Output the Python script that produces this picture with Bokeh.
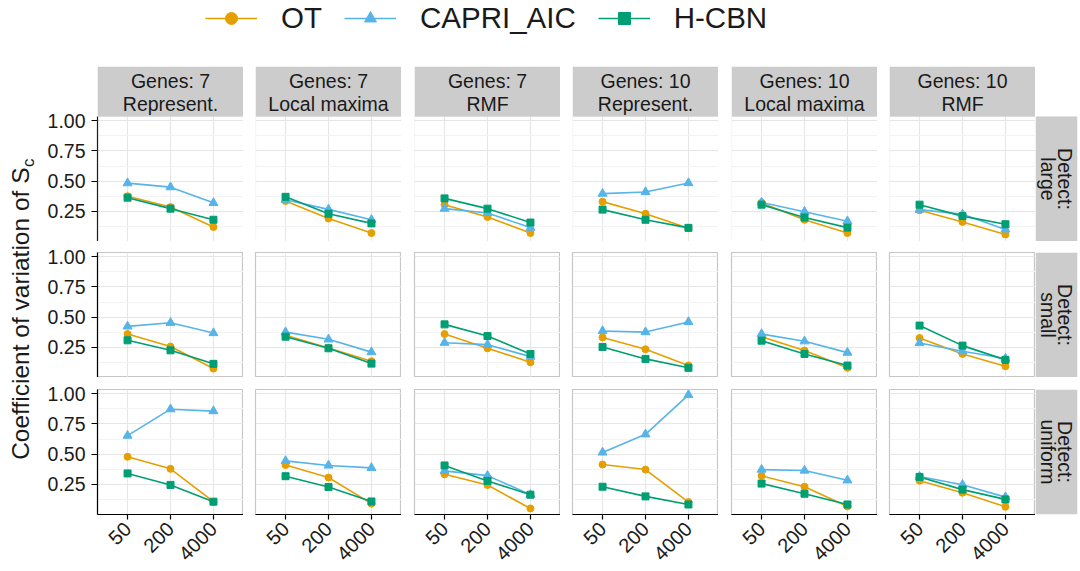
from math import pi
from bokeh.plotting import figure
from bokeh.layouts import column, row
from bokeh.models import (FactorRange, Range1d, FixedTicker, PrintfTickFormatter,
                          Legend, LegendItem, BoxAnnotation, Label)
from bokeh.core.properties import value
from bokeh.embed import file_html
from bokeh.resources import INLINE

FONT = "Liberation Sans"

# ---------------- data ----------------
sample_sizes = ["50", "200", "4000"]
genes_labels = ["Genes: 7", "Genes: 7", "Genes: 7", "Genes: 10", "Genes: 10", "Genes: 10"]
model_labels = ["Represent.", "Local maxima", "RMF", "Represent.", "Local maxima", "RMF"]
detect_labels = ["large", "small", "uniform"]
methods = ["OT", "CAPRI_AIC", "H-CBN"]

# values per panel column (6 columns), each list = [50, 200, 4000]
ot_large = [[0.375, 0.285, 0.12], [0.335, 0.19, 0.07], [0.305, 0.203, 0.07],
            [0.33, 0.23, 0.11], [0.32, 0.18, 0.07], [0.258, 0.162, 0.058]]
capri_large = [[0.483, 0.45, 0.32], [0.346, 0.266, 0.18], [0.272, 0.236, 0.115],
               [0.396, 0.41, 0.484], [0.324, 0.247, 0.168], [0.264, 0.225, 0.10]]
hcbn_large = [[0.363, 0.272, 0.18], [0.37, 0.23, 0.15], [0.357, 0.272, 0.157],
              [0.264, 0.18, 0.113], [0.305, 0.198, 0.115], [0.305, 0.21, 0.143]]

ot_small = [[0.36, 0.256, 0.074], [0.35, 0.245, 0.135], [0.36, 0.242, 0.126],
            [0.332, 0.234, 0.10], [0.338, 0.223, 0.08], [0.327, 0.195, 0.093]]
capri_small = [[0.423, 0.453, 0.368], [0.376, 0.316, 0.21], [0.288, 0.272, 0.173],
               [0.385, 0.376, 0.46], [0.36, 0.30, 0.206], [0.286, 0.217, 0.157]]
hcbn_small = [[0.308, 0.225, 0.113], [0.338, 0.242, 0.115], [0.44, 0.343, 0.195],
              [0.253, 0.154, 0.08], [0.305, 0.195, 0.099], [0.43, 0.264, 0.146]]

ot_uniform = [[0.478, 0.378, 0.106], [0.41, 0.306, 0.09], [0.333, 0.244, 0.05],
              [0.414, 0.372, 0.103], [0.32, 0.23, 0.067], [0.28, 0.18, 0.064]]
capri_uniform = [[0.653, 0.872, 0.856], [0.444, 0.406, 0.386], [0.361, 0.322, 0.164],
                 [0.514, 0.664, 0.99], [0.372, 0.364, 0.283], [0.314, 0.247, 0.144]]
hcbn_uniform = [[0.34, 0.245, 0.106], [0.317, 0.228, 0.108], [0.406, 0.278, 0.164],
                [0.23, 0.15, 0.083], [0.256, 0.172, 0.083], [0.311, 0.206, 0.125]]

y_ticks = [0.25, 0.5, 0.75, 1.0]
y_minor = [0.125, 0.375, 0.625, 0.875]

# ---------------- styles ----------------
colors = {"OT": "#E69F00", "CAPRI_AIC": "#56B4E9", "H-CBN": "#009E73"}
markers = {"OT": "circle", "CAPRI_AIC": "triangle", "H-CBN": "square"}
msizes = {"OT": 7, "CAPRI_AIC": 9, "H-CBN": 7}

rows_data = [
    {"OT": ot_large, "CAPRI_AIC": capri_large, "H-CBN": hcbn_large},
    {"OT": ot_small, "CAPRI_AIC": capri_small, "H-CBN": hcbn_small},
    {"OT": ot_uniform, "CAPRI_AIC": capri_uniform, "H-CBN": hcbn_uniform},
]

FW, FH = 146, 125
STRIP_H = 50
RSTRIP_W = 42
Y_TOP = 1.035
PX_PER_UNIT = FH / Y_TOP
STRIP_TOP = Y_TOP + STRIP_H / PX_PER_UNIT
BORDER = "#C6C6C6"
STRIP_FILL = "#CCCCCC"
TXT = "#1A1A1A"


def left_border(c):
    if c == 0:
        return 57
    return 12 if c % 2 == 1 else 13


top_borders = [0, 11, 12]


def base_fig(**kw):
    return figure(toolbar_location=None, output_backend="svg", title=None, **kw)


def panel(r, c):
    with_strip = (r == 0)
    p = base_fig(
        x_range=FactorRange(factors=sample_sizes, range_padding=0.2,
                            range_padding_units="absolute"),
        y_range=Range1d(0.0, STRIP_TOP if with_strip else Y_TOP),
        frame_width=FW, frame_height=FH + (STRIP_H if with_strip else 0),
        min_border_left=left_border(c), min_border_right=0,
        min_border_top=top_borders[r], min_border_bottom=57 if r == 2 else 0,
        x_axis_location="below" if r == 2 else None,
        y_axis_location="left" if c == 0 else None,
    )
    p.background_fill_color = "white"
    p.border_fill_color = "white"
    p.ygrid.ticker = FixedTicker(ticks=y_ticks, minor_ticks=y_minor)
    p.ygrid.grid_line_color = "#E6E6E6"
    p.ygrid.grid_line_width = 1.1
    p.ygrid.minor_grid_line_color = "#F3F3F3"
    p.ygrid.minor_grid_line_width = 1.0
    p.xgrid.grid_line_color = "#E6E6E6"
    p.xgrid.grid_line_width = 1.1
    if with_strip:
        p.outline_line_color = None
    else:
        p.outline_line_color = BORDER
        p.outline_line_width = 1.2
    if c == 0:
        ax = p.yaxis[0]
        ax.ticker = FixedTicker(ticks=y_ticks)
        ax.formatter = PrintfTickFormatter(format="%.2f")
        ax.bounds = (0.0, Y_TOP)
        ax.axis_line_color = "black"
        ax.axis_line_width = 1.2
        ax.major_tick_line_color = "black"
        ax.major_tick_line_width = 1.2
        ax.major_tick_out = 6
        ax.major_tick_in = 0
        ax.minor_tick_line_color = None
        ax.major_label_text_font = FONT
        ax.major_label_text_font_size = "19.5px"
        ax.major_label_text_color = TXT
        ax.major_label_standoff = 6
    if r == 2:
        ax = p.xaxis[0]
        ax.axis_line_color = "black"
        ax.axis_line_width = 1.2
        ax.major_tick_line_color = "black"
        ax.major_tick_line_width = 1.2
        ax.major_tick_out = 5
        ax.major_tick_in = 0
        ax.minor_tick_line_color = None
        ax.major_label_orientation = pi / 4
        ax.major_label_text_font = FONT
        ax.major_label_text_font_size = "20px"
        ax.major_label_text_color = TXT
        ax.major_label_standoff = 6
    d = rows_data[r]
    for m in methods:
        p.line(x=sample_sizes, y=d[m][c], line_color=colors[m], line_width=1.6)
    for m in methods:
        p.scatter(x=sample_sizes, y=d[m][c], marker=markers[m], size=msizes[m],
                  fill_color=colors[m], line_color=colors[m])
    if with_strip:
        # facet strip on top of the panel
        p.add_layout(BoxAnnotation(bottom=Y_TOP, fill_color=STRIP_FILL, fill_alpha=1.0,
                                   line_color=None))
        # panel border
        p.add_layout(BoxAnnotation(bottom=0.0, top=Y_TOP, fill_alpha=0.0,
                                   line_color=BORDER, line_width=1.2))
        y1 = Y_TOP + 36.0 / PX_PER_UNIT
        y2 = Y_TOP + 12.8 / PX_PER_UNIT
        for txt, yy in ((genes_labels[c], y1), (model_labels[c], y2)):
            p.add_layout(Label(x=1.5, y=yy, text=txt, text_align="center",
                               text_baseline="middle", text_font=FONT,
                               text_font_size="19.5px", text_color=TXT))
    return p


def right_strip(r):
    extra = STRIP_H if r == 0 else 0
    s = base_fig(x_range=Range1d(0, RSTRIP_W), y_range=Range1d(0, FH + extra),
                 frame_width=RSTRIP_W, frame_height=FH + extra,
                 min_border_left=0, min_border_right=3,
                 min_border_top=top_borders[r],
                 min_border_bottom=57 if r == 2 else 0,
                 x_axis_location=None, y_axis_location=None)
    s.background_fill_color = "white"
    s.border_fill_color = "white"
    s.outline_line_color = None
    s.grid.visible = False
    s.add_layout(BoxAnnotation(top=FH, fill_color=STRIP_FILL, fill_alpha=1.0,
                               line_color=None))
    for txt, xx in (("Detect:", 0.71 * RSTRIP_W), (detect_labels[r], 0.30 * RSTRIP_W)):
        s.add_layout(Label(x=xx, y=FH / 2, text=txt, angle=-pi / 2,
                           text_align="center", text_baseline="middle",
                           text_font=FONT, text_font_size="19.5px", text_color=TXT))
    return s


# ---------------- legend ----------------
lf = base_fig(x_range=Range1d(0, 1080), y_range=Range1d(0, 66), width=1080, height=66,
              min_border=0, x_axis_location=None, y_axis_location=None)
lf.outline_line_color = None
lf.grid.visible = False
items = []
for m in methods:
    # off-screen stand-ins so the legend can draw each series' glyph
    lr = lf.line(x=[-500, -400], y=[-500, -500], line_color=colors[m], line_width=1.6)
    sr = lf.scatter(x=[-500], y=[-500], marker=markers[m], size=msizes[m] - 1,
                    fill_color=colors[m], line_color=colors[m])
    items.append(LegendItem(label=m, renderers=[lr, sr]))
leg = Legend(items=items, orientation="horizontal", location=(205, 31),
             glyph_width=52, glyph_height=30, label_standoff=24, spacing=22,
             padding=0, margin=0, label_height=30,
             label_text_font=FONT, label_text_font_size="29.5px",
             label_text_color=TXT,
             background_fill_alpha=0, border_line_color=None)
lf.add_layout(leg, "center")

# ---------------- y-axis title ----------------
tf = base_fig(x_range=Range1d(0, 40), y_range=Range1d(0, 505), width=40, height=505,
              min_border=0, x_axis_location=None, y_axis_location=None)
tf.outline_line_color = None
tf.grid.visible = False
tf.text(x=[20], y=[404], text=["Coefficient of variation of S"], angle=pi / 2,
        text_align="right", text_baseline="middle", text_font=value(FONT),
        text_font_size="24.5px", text_color=TXT)
tf.text(x=[27.5], y=[404.5], text=["c"], angle=pi / 2,
        text_align="left", text_baseline="middle", text_font=value(FONT),
        text_font_size="17px", text_color=TXT)

# ---------------- layout ----------------
panel_rows = [row(*[panel(r, c) for c in range(6)], right_strip(r)) for r in range(3)]
grid = column(*panel_rows)
layout = column(lf, row(tf, grid))

open("out.html", "w").write(file_html(layout, INLINE, title="CV of Sc"))
